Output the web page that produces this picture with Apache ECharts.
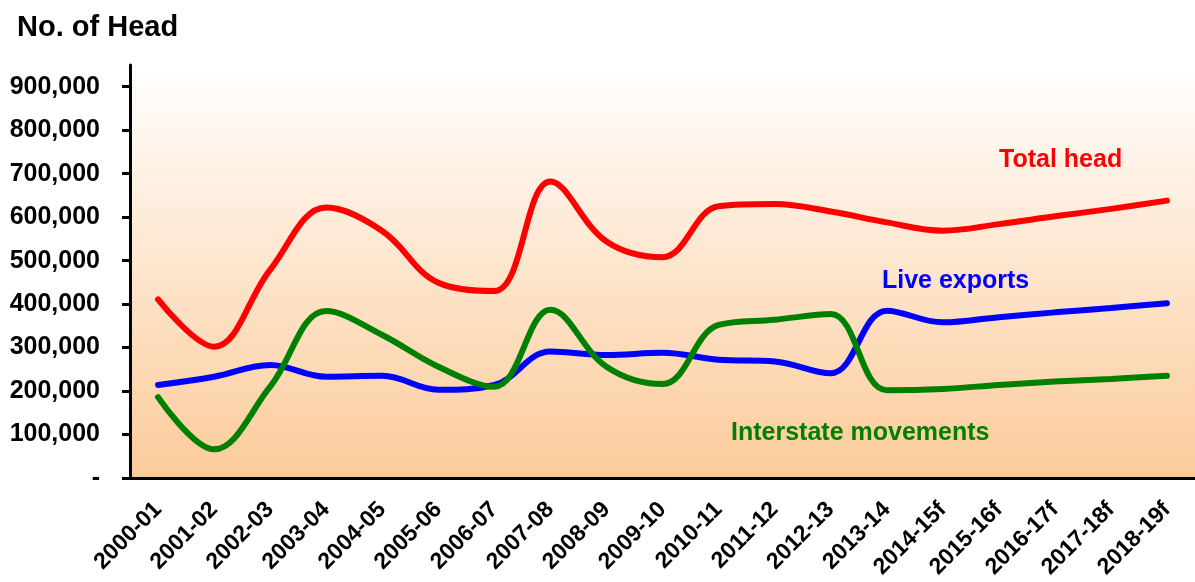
<!DOCTYPE html>
<html>
<head>
<meta charset="utf-8">
<script src="https://cdn.jsdelivr.net/npm/echarts@6/dist/echarts.min.js"></script>
<style>
  html, body { margin: 0; padding: 0; background: #fff; }
  #main { width: 1195px; height: 582px; }
</style>
</head>
<body>
<div id="main"></div>
<script>
var years = ['2000-01','2001-02','2002-03','2003-04','2004-05','2005-06','2006-07','2007-08','2008-09','2009-10',
    '2010-11','2011-12','2012-13','2013-14','2014-15f','2015-16f','2016-17f','2017-18f','2018-19f']
var totalHead = [411000,302000,479000,622000,568000,449000,430000,682000,544000,508000,
    625000,630000,613000,588000,569000,584000,602000,619000,638000]
var liveExports = [214000,233000,260000,233000,235000,203000,214000,291000,283000,288000,
    272000,268000,241000,385000,358000,370000,381000,391000,402000]
var interstate = [186000,66000,210000,384000,329000,256000,210000,387000,256000,216000,
    352000,364000,377000,202000,205000,214000,222000,228000,235000]
var yTicks = [0,100000,200000,300000,400000,500000,600000,700000,800000,900000]

var font = 'Liberation Sans, Arial, sans-serif'

function fmt(v) {
    if (v === 0) return '-'
    return String(v).replace(/\B(?=(\d{3})+(?!\d))/g, ',')
}

function line(name, data, color) {
    return {
        name: name,
        type: 'line',
        data: data,
        smooth: 0.38,
        showSymbol: false,
        symbol: 'none',
        lineStyle: { color: color, width: 6, cap: 'round' },
        itemStyle: { color: color }
    }
}

var chart = echarts.init(document.getElementById('main'))
chart.setOption({
    animation: false,
    grid: {
        left: 130,
        top: 65,
        right: -5,
        bottom: 104,
        show: true,
        borderWidth: 0,
        backgroundColor: new echarts.graphic.LinearGradient(0, 0, 0, 1, [
            { offset: 0, color: '#ffffff' },
            { offset: 1, color: '#fccb9a' }
        ])
    },
    xAxis: {
        type: 'category',
        data: years,
        boundaryGap: true,
        axisLine: { lineStyle: { color: '#000', width: 3 } },
        axisTick: { length: 9, lineStyle: { color: '#000', width: 3 } },
        axisLabel: {
            rotate: 45,
            interval: 0,
            margin: 28,
            color: '#000',
            fontWeight: 'bold',
            fontSize: 23,
            fontFamily: font
        },
        splitLine: { show: false }
    },
    yAxis: {
        type: 'value',
        min: 0,
        max: 950000,
        interval: 100000,
        axisLine: { show: true, lineStyle: { color: '#000', width: 3 } },
        axisTick: { show: true, length: 8, customValues: yTicks, lineStyle: { color: '#000', width: 3 } },
        axisLabel: {
            customValues: yTicks,
            formatter: fmt,
            margin: 30,
            color: '#000',
            fontWeight: 'bold',
            fontSize: 25,
            fontFamily: font
        },
        splitLine: { show: false }
    },
    graphic: [
        { type: 'text', left: 17, top: 13, style: { text: 'No. of Head', fill: '#000', font: 'bold 29px ' + font } },
        { type: 'text', x: 999, y: 160, style: { text: 'Total head', fill: '#ff0000', font: 'bold 25px ' + font, verticalAlign: 'middle' } },
        { type: 'text', x: 882, y: 281, style: { text: 'Live exports', fill: '#0000ff', font: 'bold 25px ' + font, verticalAlign: 'middle' } },
        { type: 'text', x: 731, y: 433, style: { text: 'Interstate movements', fill: '#008000', font: 'bold 25px ' + font, verticalAlign: 'middle' } }
    ],
    series: [
        line('Total head', totalHead, '#ff0000'),
        line('Live exports', liveExports, '#0000ff'),
        line('Interstate movements', interstate, '#008000')
    ]
})
</script>
</body>
</html>
